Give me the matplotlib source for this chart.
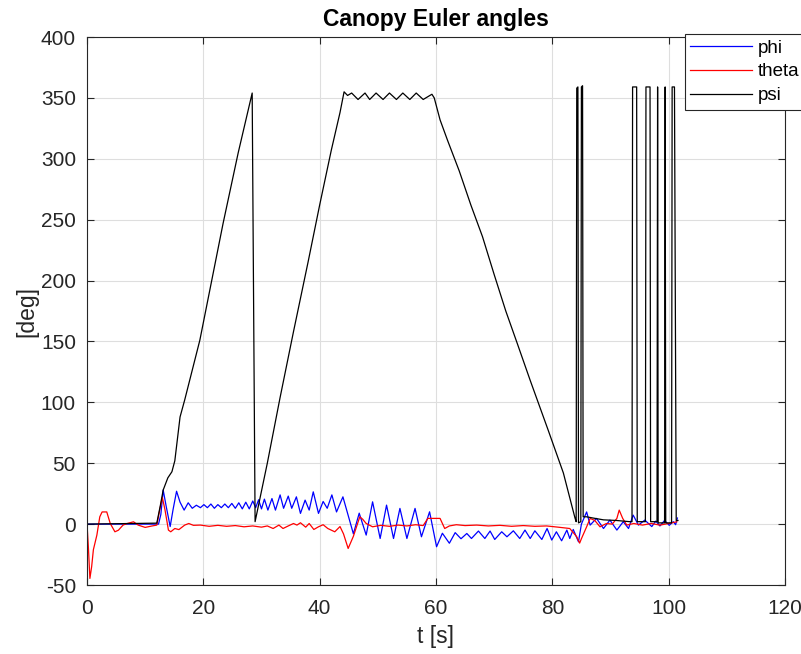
import matplotlib
matplotlib.use('Agg')
import matplotlib.pyplot as plt

plt.rcParams['font.family'] = ['Liberation Sans', 'DejaVu Sans']
plt.rcParams['axes.unicode_minus'] = False

# phi (blue)
t_phi = [0, 12.3, 12.7, 13.1, 13.6, 14.3, 14.8, 15.4, 16.0, 16.7, 17.4, 18.1, 18.8, 19.5,
         20.1, 20.7, 21.3, 21.9, 22.5, 23.1, 23.7, 24.3, 24.9, 25.5, 26.1, 26.7, 27.3, 27.9,
         28.5, 29.0, 29.5, 30.0, 30.5, 31.1, 31.8, 32.4, 33.2, 33.8, 34.6, 35.2, 36.0, 36.7,
         37.5, 38.2, 38.9, 39.8, 40.6, 41.3, 42.1, 42.9, 44.0, 45.8, 46.8, 48.0, 49.1, 50.4,
         51.5, 52.7, 53.8, 55.0, 56.4, 57.5, 58.9, 60.1, 61.1, 62.3, 63.3, 64.3, 65.3, 66.1,
         67.3, 68.4, 69.3, 70.1, 71.3, 72.2, 73.3, 74.4, 75.3, 76.2, 77.0, 78.2, 79.1, 79.9,
         80.7, 81.6, 82.5, 83.0, 83.6, 84.5, 85.0, 85.9, 86.5, 87.6, 88.8, 89.9, 91.1, 92.2,
         93.1, 93.9, 94.8, 95.9, 97.1, 97.8, 98.5, 99.3, 100.1, 100.8, 101.2, 101.5]
phi = [0, 0, 8, 28, 15, -2, 12, 27, 18, 11.5, 17.5, 13, 15.5, 13.5,
       16, 13.5, 16.5, 13, 16, 13.5, 16.5, 13.5, 17, 13, 17.5, 12.5, 18, 12.5,
       19, 13.5, 20, 12.5, 20.5, 11.5, 21, 11.5, 24, 13, 23, 13, 22.4, 8.8,
       19.7, 11.5, 26.5, 8.8, 18.6, 13, 24, 10, 22.4, -8, 9, -9, 18.3, -11.8,
       15.6, -11.8, 12.9, -11.8, 12.9, -10.4, 10.1, -18.6, -7.5, -15.7, -7, -12, -7.7, -11.8,
       -5.7, -11.8, -5.7, -12.6, -6.3, -10.4, -5.5, -11.8, -4.9, -11.8, -5.5, -12.6, -3.6, -13.1,
       -6.3, -13.7, -4.9, -11.8, -4.4, -14.5, 0, 10, -0.8, 4.7, -3.6, 3.3, -4.9, 2,
       -3.6, 7.4, -0.8, 3.3, -2, 2.5, -1.5, 3, -1, 2, -0.5, 5]

# theta (red)
t_theta = [0, 0.25, 0.5, 0.8, 1.1, 1.7, 2.2, 2.6, 3.4, 4.0, 4.8, 5.4, 6.2, 6.9, 8.0, 8.8,
           10.0, 11.1, 12.0, 12.5, 12.95, 13.4, 14.0, 14.4, 15.1, 15.8, 16.8, 17.5, 18.3,
           19.5, 21, 22.5, 24, 25.5, 27, 28.5, 30, 31, 32, 33, 33.7, 34.6, 35.5, 36.1, 36.7,
           37.6, 38.2, 39, 39.8, 40.6, 41.4, 42.6, 43.5, 44.1, 44.9, 45.8, 46.9, 47.4, 48.0,
           49.1, 50.5, 52, 53.5, 55, 56.5, 57.8, 58.6, 60.7, 61.5, 62.3, 63.5, 65, 67, 69,
           71, 73, 75, 77, 79, 81, 83, 84.2, 84.7, 85.0, 85.9, 86.5, 87.3, 88.2, 89.3, 90.3,
           91.1, 91.5, 92.1, 92.8, 94, 95.5, 97, 98.5, 100, 101.4]
theta = [0.5, -20, -44.6, -35, -21, -9, 6, 10, 10, 0.5, -6.3, -5, -0.8, 0.5, 1.9, -0.8,
         -2.7, -1.6, -0.8, 11.5, 22, 12, -4.9, -6.3, -3.6, -4.5, -0.8, 0.5, -1,
         -0.8, -1.8, -1, -1.8, -1.2, -2.2, -1.5, -2.5, -1.5, -3.6, -0.8, -3.6, -1.5, 0.5, -0.8, 1.1,
         -2.5, 0.5, -4.4, -2.2, -0.5, -3.6, -6.3, -2, -8, -20, -10, 6, 4, 0.5,
         -2.2, -1, -1.8, -0.8, -1.5, -0.5, -1.2, 4.7, 4.7, -3.6, -1.5, -0.5, -1.2, -0.8, -1.5,
         -1, -1.8, -1.2, -1.8, -1.5, -2.5, -3.6, -10.4, -15.6, -12, -2.2, 4.7, 3, -2.2, 0.5, 0,
         4.7, 11.5, 4.7, -0.8, 0.5, -0.8, 0.5, -0.8, 0.5, 1.9]

# psi (black)
t_psi = [0, 12.0, 12.6, 13.1, 13.9, 14.6, 15.1, 16.0, 16.8, 19.4, 23.4, 26, 28.4, 28.9,
         31, 33.2, 35.5, 38, 40, 42, 43.5, 44.2, 44.8, 45.5, 46.6, 47.8, 48.6, 49.7, 50.9,
         52.0, 53.2, 54.3, 55.5, 56.6, 57.8, 59.3, 59.7, 60.7, 62, 64, 66, 68, 70, 72, 74,
         76.2, 79.3, 81.9, 83.9, 84.1, 84.2, 84.4, 84.5, 84.9, 85.0, 85.2, 85.3, 85.9, 87,
         88.8, 91, 93.3, 93.7, 93.8, 94.5, 94.6, 96.0, 96.1, 96.8, 96.9, 98.0, 98.1, 98.2,
         99.3, 99.4, 99.5, 100.5, 100.6, 101.0, 101.3, 101.6]
psi = [0, 0.8, 15, 28, 38, 43, 52, 88, 102, 151, 247, 305, 354, 2,
       50, 104, 158, 215, 262, 307, 338, 355, 352, 354, 348.7, 354, 348.7, 354, 348.7,
       354, 348.7, 354, 348.7, 354, 348.7, 353, 350, 332, 315, 290, 262, 236, 205, 175, 148,
       118, 77, 42, 5, 2, 358, 359, 1, 2, 359, 360, 6, 6, 5,
       3.5, 3, 2, 2, 359, 359, 2, 2, 359, 359, 2, 2, 359, 1,
       1, 359, 1, 1, 359, 359, 3, 3]

fig = plt.figure(figsize=(8.01, 6.54), dpi=100)
ax = fig.add_axes([0.1086, 0.1055, 0.8714, 0.8379])

ax.plot(t_phi, phi, color='#0000ff', linewidth=0.9, label='phi')
ax.plot(t_theta, theta, color='#ff0000', linewidth=0.9, label='theta')
ax.plot(t_psi, psi, color='black', linewidth=0.9, label='psi')

ax.set_xlim(0, 120)
ax.set_ylim(-50, 400)
ax.set_xticks(range(0, 121, 20))
ax.set_yticks(range(-50, 401, 50))
ax.grid(True, color='#dedede', linewidth=0.8)
ax.set_axisbelow(True)

for s in ax.spines.values():
    s.set_color('#262626')
    s.set_linewidth(0.8)
ax.tick_params(direction='in', top=True, right=True, length=5, width=0.8,
               colors='#262626', labelsize=15)
ax.tick_params(axis='x', pad=10)
ax.tick_params(axis='y', pad=8)

ax.set_title('Canopy Euler angles', fontsize=16.5, fontweight='bold', pad=8)
ax.set_xlabel('t [s]', fontsize=16.5, color='#262626', labelpad=5)
ax.set_ylabel('[deg]', fontsize=16.5, color='#262626', labelpad=2)

leg = ax.legend(loc='upper left', bbox_to_anchor=(0.855, 0.948),
                bbox_transform=fig.transFigure, borderaxespad=0,
                fontsize=13.5, fancybox=False, framealpha=1,
                edgecolor='#262626', handlelength=3.3, handletextpad=0.3,
                labelspacing=0.35, borderpad=0.3)
leg.get_frame().set_linewidth(0.8)

fig.savefig('out.png', dpi=100)
